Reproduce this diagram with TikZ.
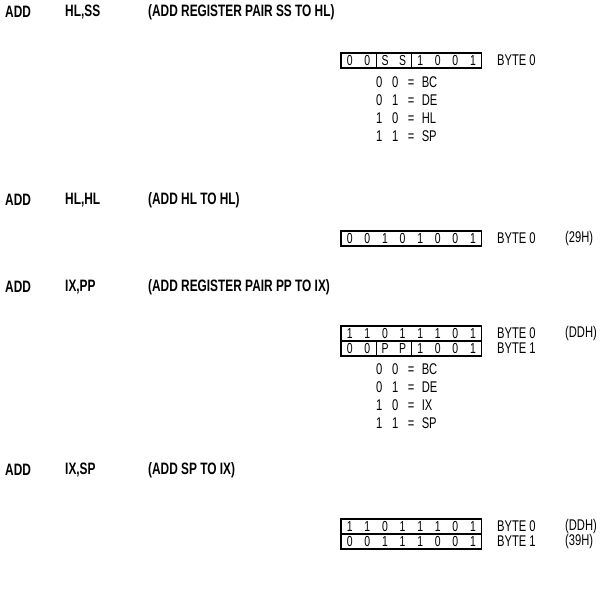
\documentclass[tikz,border=0pt]{standalone}
\usepackage{fontspec}
\setmainfont{Liberation Sans}[FakeStretch=0.72]
\usetikzlibrary{positioning}
\newlength{\bitw}\setlength{\bitw}{17.6pt}
\newcommand{\bt}[1]{\makebox[\bitw]{#1}}
\newcommand{\rg}[1]{\makebox[16pt]{#1}}

\begin{document}
\begin{tikzpicture}[x=1pt,y=-1pt,
 head/.style={anchor=west,inner sep=0pt,font=\bfseries\fontsize{16.5}{18}\selectfont},
 txt/.style={anchor=west,inner sep=0pt,font=\fontsize{15.5}{18}\selectfont},
 field/.style={draw,line width=1.2pt,inner sep=0pt,outer sep=0pt,minimum height=15pt,anchor=west,font=\fontsize{14.5}{16}\selectfont}]
 \useasboundingbox (0,0) rectangle (601,607);
 % ADD HL,SS
 \node[head] (opA) at (5,12) {ADD};
 \node[head] (argA) at (65,12) {HL,SS};
 \node[head] (noteA) at (148,12) {(ADD REGISTER PAIR SS TO HL)};
 \node[field] (a1) at (341,60.5) {\bt0\bt0};
 \node[field,right=0pt of a1] (a2) {\bt S\bt S};
 \node[field,right=0pt of a2] (a3) {\bt1\bt0\bt0\bt1};
 \node[txt] (byteA) at (497,60.5) {BYTE 0};
 \foreach \p/\q/\r [count=\i] in {0/0/BC,0/1/DE,1/0/HL,1/1/SP}
  \node[txt] (regA\i) at (371,82+18*\i-18) {\rg\p\rg\q\rg{=}\,\r};
 % ADD HL,HL
 \node[head] (opB) at (5,200) {ADD};
 \node[head] (argB) at (65,200) {HL,HL};
 \node[head] (noteB) at (148,200) {(ADD HL TO HL)};
 \node[field] (b1) at (341,238.5) {\bt0\bt0\bt1\bt0\bt1\bt0\bt0\bt1};
 \node[txt] (byteB) at (497,238.5) {BYTE 0};
 \node[txt] (hexB) at (565,238.5) {(29H)};
 % ADD IX,PP
 \node[head] (opC) at (5,287) {ADD};
 \node[head] (argC) at (65,287) {IX,PP};
 \node[head] (noteC) at (148,287) {(ADD REGISTER PAIR PP TO IX)};
 \node[field] (c0) at (341,333.5) {\bt1\bt1\bt0\bt1\bt1\bt1\bt0\bt1};
 \node[field] (c1) at (341,348.5) {\bt0\bt0};
 \node[field,right=0pt of c1] (c2) {\bt P\bt P};
 \node[field,right=0pt of c2] (c3) {\bt1\bt0\bt0\bt1};
 \node[txt] (byteC0) at (497,333.5) {BYTE 0};
 \node[txt] (hexC0) at (565,333.5) {(DDH)};
 \node[txt] (byteC1) at (497,348.5) {BYTE 1};
 \foreach \p/\q/\r [count=\i] in {0/0/BC,0/1/DE,1/0/IX,1/1/SP}
  \node[txt] (regC\i) at (371,369+18*\i-18) {\rg\p\rg\q\rg{=}\,\r};
 % ADD IX,SP
 \node[head] (opD) at (5,470) {ADD};
 \node[head] (argD) at (65,470) {IX,SP};
 \node[head] (noteD) at (148,470) {(ADD SP TO IX)};
 \node[field] (d0) at (341,526.5) {\bt1\bt1\bt0\bt1\bt1\bt1\bt0\bt1};
 \node[field] (d1) at (341,541.5) {\bt0\bt0\bt1\bt1\bt1\bt0\bt0\bt1};
 \node[txt] (byteD0) at (497,526.5) {BYTE 0};
 \node[txt] (hexD0) at (565,526.5) {(DDH)};
 \node[txt] (byteD1) at (497,541.5) {BYTE 1};
 \node[txt] (hexD1) at (565,541.5) {(39H)};
\end{tikzpicture}
\end{document}
